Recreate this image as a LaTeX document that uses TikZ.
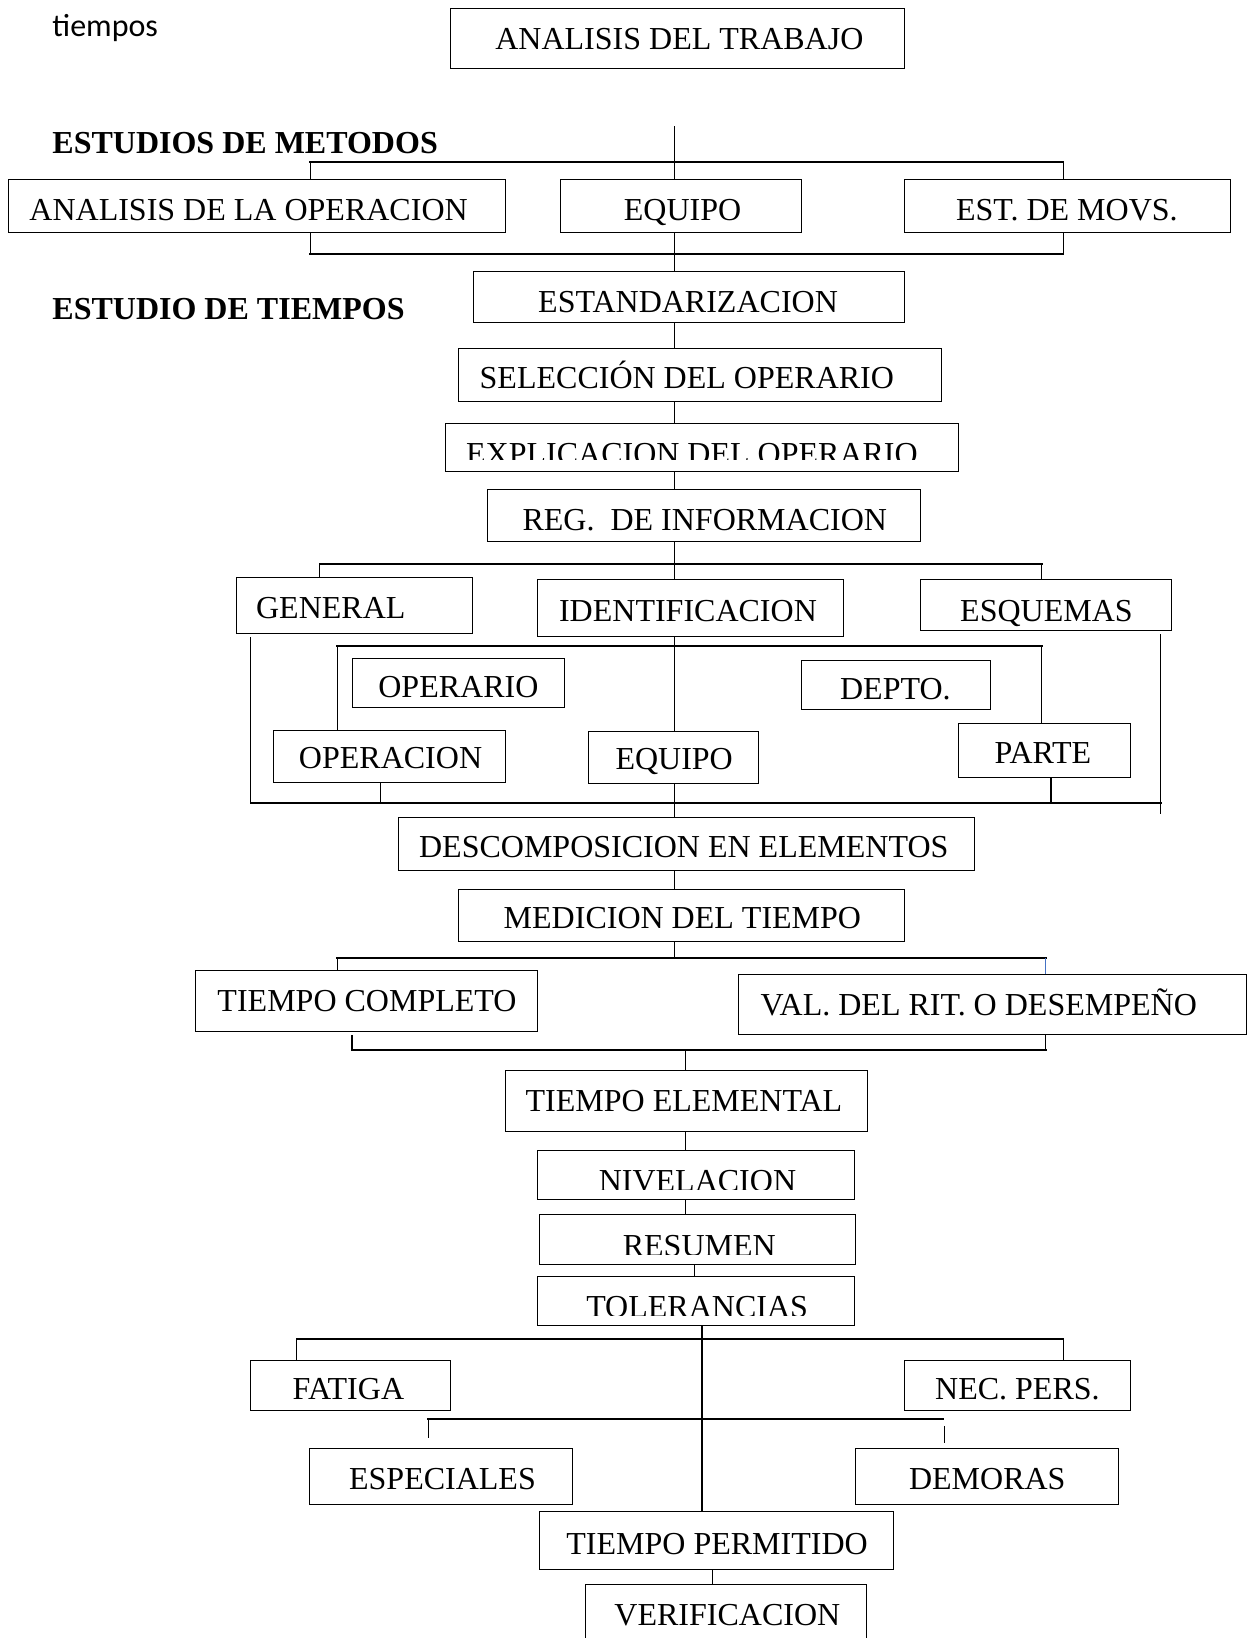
\documentclass[tikz,border=0pt]{standalone}
\usepackage{fontspec}
\setmainfont{Liberation Serif}
\newfontfamily\capfont{Carlito}
\usetikzlibrary{fit}
\pgfdeclarelayer{bg}
\pgfsetlayers{bg,main}
\definecolor{wblue}{RGB}{68,114,196}
\frenchspacing

\tikzset{
  boxsty/.style={draw, fill=white, line width=1pt, inner sep=0pt},
  lbl/.style={anchor=base west, inner sep=0pt, font=\fontsize{32}{38}\selectfont},
  head/.style={anchor=base west, inner sep=0pt, font=\bfseries\fontsize{32}{38}\selectfont},
  link/.style={line width=1.2pt},
  bar/.style={line width=2pt, line cap=rect},
}

% box: name, x1, y1, x2, y2
\newcommand\mkbox[5]{\node[boxsty, fit={(#2,#3) (#4,#5)}] (#1) {};}
% label: name, x, baseline y, text
\newcommand\mklabel[4]{\node[lbl] (#1) at (#2,#3) {#4};}
% label cut off at a given y: name, x, baseline, clip y, box name, text
\newcommand\mkclipped[6]{%
  \begin{scope}
    \clip (#5.north west) rectangle (#5.east |- 0,#4);
    \node[lbl] (#1) at (#2,#3) {#6};
  \end{scope}}

\begin{document}
\begin{tikzpicture}[x=1.0444pt, y=-1.0444pt]
\useasboundingbox (0,0) rectangle (1194,1568);

% ---------- boxes ----------
\mkbox{trabajo}{431}{8}{866}{66}
\mkbox{anop}{8}{172}{484}{223}
\mkbox{equipoA}{537}{172}{767}{223}
\mkbox{movs}{866}{172}{1178}{223}
\mkbox{estand}{453}{260}{866}{309}
\mkbox{selec}{439}{334}{901}{384}
\mkbox{expl}{426}{405}{918}{451}
\mkbox{reg}{467}{469}{881}{518}
\mkbox{general}{226}{553}{452}{606}
\mkbox{ident}{515}{555}{807}{609}
\mkbox{esq}{881}{555}{1121}{604}
\mkbox{operario}{337}{630}{540}{677}
\mkbox{depto}{767}{632}{948}{679}
\mkbox{operacion}{262}{699}{484}{749}
\mkbox{equipoB}{563}{700}{726}{750}
\mkbox{parte}{918}{693}{1082}{744}
\mkbox{descomp}{381}{783}{933}{833}
\mkbox{medic}{439}{851}{866}{901}
\mkbox{tcomp}{187}{929}{515}{987}
\mkbox{valrit}{707}{933}{1193}{990}
\mkbox{telem}{484}{1025}{830}{1083}
\mkbox{nivel}{515}{1101}{818}{1148}
\mkbox{resumen}{516}{1163}{819}{1210}
\mkbox{toler}{515}{1222}{818}{1269}
\mkbox{fatiga}{240}{1302}{431}{1350}
\mkbox{necp}{866}{1302}{1082}{1350}
\mkbox{espec}{296}{1387}{548}{1440}
\mkbox{demoras}{819}{1387}{1071}{1440}
\mkbox{tperm}{516}{1447}{855}{1502}
\mkbox{verif}{560}{1517}{829}{1600}

% ---------- free texts ----------
\node[anchor=base west, inner sep=0pt, font=\capfont\fontsize{32}{38}\selectfont] (cap) at (50,35) {tiempos};
\node[head] (hmet) at (50,147) {ESTUDIOS DE METODOS};
\node[head] (htie) at (50,306) {ESTUDIO DE TIEMPOS};

% ---------- box texts ----------
\mklabel{trabajo-t}{474}{47}{ANALISIS DEL TRABAJO}
\mklabel{anop-t}{28}{211}{ANALISIS DE LA OPERACION}
\mklabel{equipoA-t}{597}{211}{EQUIPO}
\mklabel{movs-t}{915}{211}{EST. DE MOVS.}
\mklabel{estand-t}{515}{299}{ESTANDARIZACION}
\mklabel{selec-t}{459}{372}{SELECCIÓN DEL OPERARIO}
\mkclipped{expl-t}{446}{445}{440}{expl}{EXPLICACION DEL OPERARIO}
\mklabel{reg-t}{500}{508}{REG.\ \ DE INFORMACION}
\mklabel{general-t}{245}{592}{GENERAL}
\mklabel{ident-t}{535}{595}{IDENTIFICACION}
\mklabel{esq-t}{919}{595}{ESQUEMAS}
\mklabel{operario-t}{362}{668}{OPERARIO}
\mklabel{depto-t}{804}{670}{DEPTO.}
\mklabel{operacion-t}{286}{736}{OPERACION}
\mklabel{equipoB-t}{589}{737}{EQUIPO}
\mklabel{parte-t}{952}{731}{PARTE}
\mklabel{descomp-t}{401}{821}{DESCOMPOSICION EN ELEMENTOS}
\mklabel{medic-t}{482}{889}{MEDICION DEL TIEMPO}
\mklabel{tcomp-t}{208}{968}{TIEMPO COMPLETO}
\mklabel{valrit-t}{728}{972}{VAL. DEL RIT. O DESEMPEÑO}
\mklabel{telem-t}{503}{1064}{TIEMPO ELEMENTAL}
\mkclipped{nivel-t}{573}{1141}{1139}{nivel}{NIVELACION}
\mkclipped{resumen-t}{596}{1203}{1201}{resumen}{RESUMEN}
\mkclipped{toler-t}{561}{1261}{1259}{toler}{TOLERANCIAS}
\mklabel{fatiga-t}{280}{1340}{FATIGA}
\mklabel{necp-t}{895}{1340}{NEC. PERS.}
\mklabel{espec-t}{334}{1426}{ESPECIALES}
\mklabel{demoras-t}{870}{1426}{DEMORAS}
\mklabel{tperm-t}{542}{1488}{TIEMPO PERMITIDO}
\mklabel{verif-t}{588}{1556}{VERIFICACION}

% ---------- connectors ----------
\begin{pgfonlayer}{bg}
\fill[white] (0,0) rectangle (1194,1568);

% methods study
\coordinate (s0) at (646,121);
\draw[link] (s0) -- (s0 |- estand.north);
\coordinate (mL) at (297,155); \coordinate (mR) at (1018,155);
\draw[bar] (mL) -- (mR);
\draw[link] (mL) -- (mL |- anop.north);
\draw[link] (mR) -- (mR |- movs.north);
\coordinate (nL) at (297,243); \coordinate (nR) at (1018,243);
\draw[bar] (nL) -- (nR);
\draw[link] (nL) -- (nL |- anop.south);
\draw[link] (nR) -- (nR |- movs.south);

% time study spine
\draw[link] (s0 |- estand.south) -- (s0 |- selec.north);
\draw[link] (s0 |- selec.south) -- (s0 |- expl.north);
\draw[link] (s0 |- expl.south) -- (s0 |- reg.north);
\coordinate (rL) at (306,540); \coordinate (rR) at (997,540);
\draw[link] (s0 |- reg.south) -- (s0 |- rL);
\draw[bar] (rL) -- (rR);
\draw[link] (rL) -- (rL |- general.north);
\draw[link] (s0 |- rL) -- (s0 |- ident.north);
\draw[link] (rR) -- (rR |- esq.north);

% outer bracket
\coordinate (oLt) at (240,610); \coordinate (oL) at (240,769);
\coordinate (oRt) at (1111,607); \coordinate (oR) at (1111,769);
\coordinate (oRb) at (1111,779);
\draw[link] (oLt) -- (oL);
\draw[link] (oRt) -- (oRb);
\draw[bar] (oL) -- (oR);

% inner bracket
\coordinate (iL) at (323,618); \coordinate (iR) at (997,618);
\draw[bar] (iL) -- (iR);
\draw[link] (iL) -- (iL |- operacion.north);
\draw[link] (iR) -- (iR |- parte.north);
\draw[link] (s0 |- ident.south) -- (s0 |- equipoB.north);

% risers to the lower bar
\coordinate (q1) at (364,769); \coordinate (q2) at (1006,769);
\draw[link] (q1 |- operacion.south) -- (q1);
\draw[link] (q2 |- parte.south) -- (q2);
\draw[link] (s0 |- equipoB.south) -- (s0 |- descomp.north);
\draw[link] (s0 |- descomp.south) -- (s0 |- medic.north);

% timing branches
\coordinate (tL) at (323,917); \coordinate (tR) at (1001,917);
\draw[link] (s0 |- medic.south) -- (s0 |- tL);
\draw[bar] (tL) -- (tR);
\draw[link] (tL) -- (tL |- tcomp.north);
\draw[link, wblue] (tR) -- (tR |- valrit.north);
\coordinate (uLt) at (337,991); \coordinate (uL) at (337,1005);
\coordinate (uR) at (1001,1005);
\draw[link] (uLt) -- (uL);
\draw[link] (uR |- valrit.south) -- (uR);
\draw[bar] (uL) -- (uR);

% lower spine
\coordinate (s2) at (656,1005);
\draw[link] (s2) -- (s2 |- telem.north);
\draw[link] (s2 |- telem.south) -- (s2 |- nivel.north);
\draw[link] (s2 |- nivel.south) -- (s2 |- resumen.north);
\coordinate (s3) at (665,1210);
\draw[link] (s3 |- resumen.south) -- (s3 |- toler.north);
\coordinate (s4) at (672,1269);
\draw[link] (s4 |- toler.south) -- (s4 |- tperm.north);

% allowances
\coordinate (fL) at (284,1282); \coordinate (fR) at (1018,1282);
\draw[bar] (fL) -- (fR);
\draw[link] (fL) -- (fL |- fatiga.north);
\draw[link] (fR) -- (fR |- necp.north);
\coordinate (gL) at (410,1358); \coordinate (gR) at (903,1358);
\draw[bar] (gL) -- (gR);
\coordinate (gLb) at (410,1377);
\draw[link] (gL) -- (gLb);
\coordinate (gRt) at (904,1365); \coordinate (gRb) at (904,1381);
\draw[link] (gRt) -- (gRb);

\coordinate (s5) at (682,1502);
\draw[link] (s5 |- tperm.south) -- (s5 |- verif.north);
\end{pgfonlayer}
\end{tikzpicture}
\end{document}
